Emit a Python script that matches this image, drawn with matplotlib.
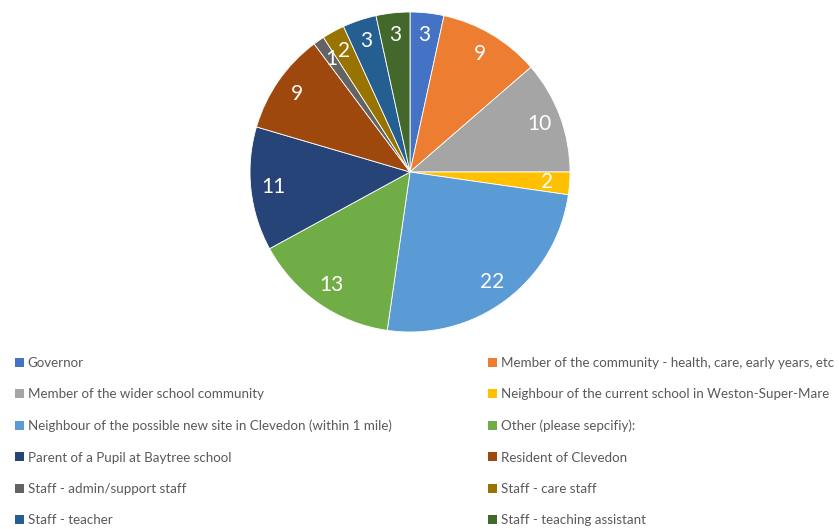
import matplotlib
matplotlib.use("Agg")
import matplotlib.pyplot as plt
from matplotlib.patches import Patch

categories = [
    "Governor",
    "Member of the community - health, care, early years, etc",
    "Member of the wider school community",
    "Neighbour of the current school in Weston-Super-Mare",
    "Neighbour of the possible new site in Clevedon (within 1 mile)",
    "Other (please sepcifiy):",
    "Parent of a Pupil at Baytree school",
    "Resident of Clevedon",
    "Staff - admin/support staff",
    "Staff - care staff",
    "Staff - teacher",
    "Staff - teaching assistant",
]
values = [3, 9, 10, 2, 22, 13, 11, 9, 1, 2, 3, 3]
colors = ["#4472C4", "#ED7D31", "#A5A5A5", "#FFC000", "#5B9BD5", "#70AD47",
          "#264478", "#9E480E", "#636363", "#997300", "#255E91", "#43682B"]

plt.rcParams["font.family"] = ["Lato", "DejaVu Sans"]

fig = plt.figure(figsize=(8.39, 5.29), dpi=100)

# pie, centred at about (410, 172) px with radius 160 px
ax = fig.add_axes([250 / 839, 1 - 332 / 529, 320 / 839, 320 / 529])
total = sum(values)
wedges, texts, autotexts = ax.pie(
    values,
    colors=colors,
    startangle=90,
    counterclock=False,
    autopct=lambda p: f"{round(p * total / 100):d}",
    pctdistance=0.86,
    wedgeprops=dict(edgecolor="white", linewidth=0.6),
    textprops=dict(color="white", fontsize=15),
)
ax.set_xlim(-1, 1)
ax.set_ylim(-1, 1)
ax.set_aspect("equal")

# legend in two columns, filled row by row
handles = [Patch(facecolor=c, edgecolor="none") for c in colors]
left = list(range(0, 12, 2))
right = list(range(1, 12, 2))
for idx, x0 in [(left, 3 / 839), (right, 476 / 839)]:
    fig.legend(
        [handles[i] for i in idx],
        [categories[i] for i in idx],
        loc="upper left",
        bbox_to_anchor=(x0, 1 - 345 / 529),
        frameon=False,
        fontsize=9.6,
        handlelength=0.65,
        handleheight=0.65,
        handletextpad=0.3,
        labelspacing=1.45,
        labelcolor="#595959",
    )

fig.savefig("out.png", dpi=100)
